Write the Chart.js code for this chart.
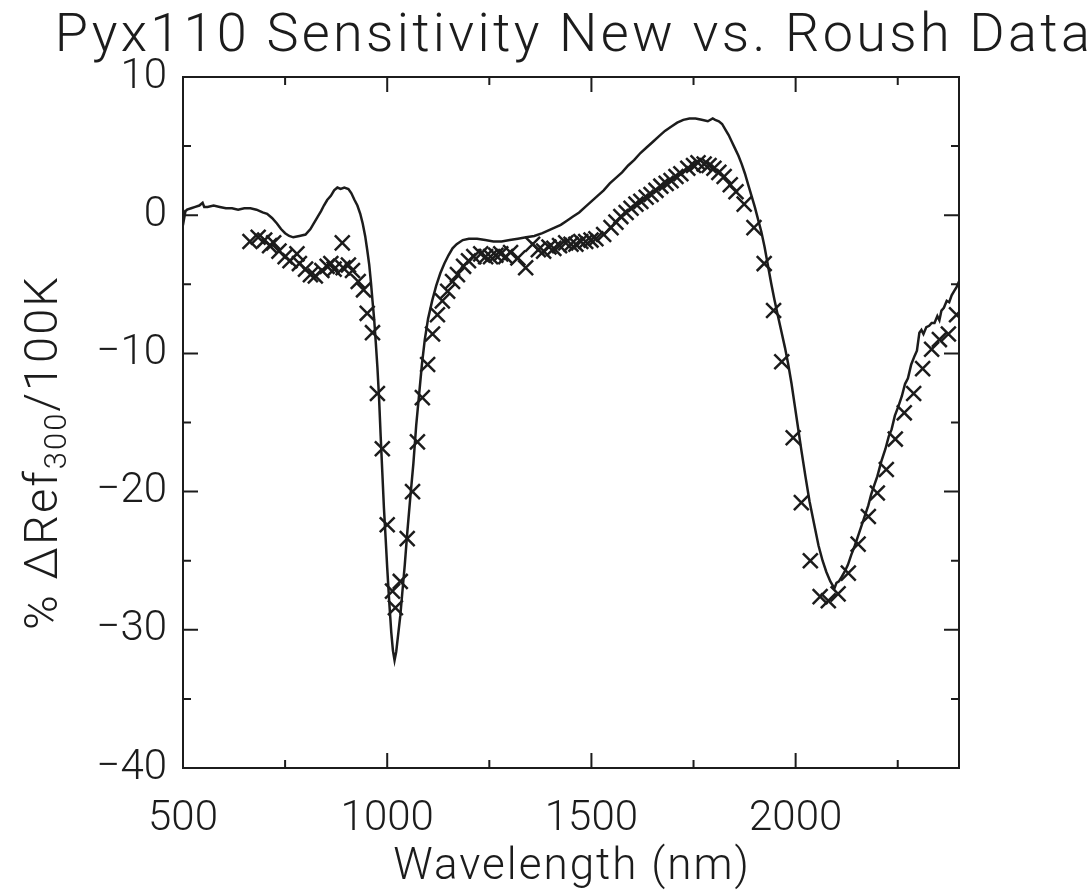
<!DOCTYPE html>
<html lang="en">
<head>
<meta charset="UTF-8">
<title>Pyx110 Sensitivity New vs. Roush Data</title>
<script src="https://cdn.jsdelivr.net/npm/chart.js@4.4.0/dist/chart.umd.min.js"></script>
<style>
  body { margin: 0; background: #fff; }
  #wrap { width: 1087px; height: 890px; }
</style>
</head>
<body>
<div id="wrap"><canvas id="chart"></canvas></div>
<script>
// new measurement (solid line)
const newWl = [500, 503, 506, 510, 520, 530, 540, 548, 552, 560, 575, 590, 605, 620, 635, 650, 665, 680, 695, 706,
  718, 730, 740, 750, 760, 770, 785, 800, 812, 822, 830, 838, 845, 853, 862, 870, 878, 886, 895, 905,
  912, 920, 927, 934, 940, 946, 951, 956, 960, 964, 968, 972, 976, 980, 984, 988, 992, 996, 1000, 1005,
  1010, 1014, 1018, 1022, 1027, 1032, 1037, 1043, 1049, 1056, 1064, 1071, 1078, 1085, 1092, 1100, 1110, 1120, 1130, 1140,
  1150, 1160, 1170, 1185, 1200, 1220, 1240, 1260, 1280, 1300, 1320, 1340, 1360, 1380, 1395, 1410, 1425, 1440, 1455, 1470,
  1485, 1500, 1515, 1530, 1545, 1560, 1575, 1590, 1605, 1620, 1635, 1650, 1665, 1680, 1695, 1710, 1725, 1740, 1755, 1770,
  1785, 1797, 1803, 1812, 1820, 1828, 1836, 1844, 1852, 1860, 1868, 1876, 1884, 1892, 1900, 1908, 1916, 1924, 1932, 1940,
  1948, 1956, 1965, 1974, 1982, 1990, 1997, 2005, 2014, 2024, 2034, 2045, 2056, 2066, 2075, 2085, 2095, 2100, 2106, 2112,
  2120, 2128, 2136, 2145, 2153, 2161, 2170, 2178, 2185, 2193, 2200, 2210, 2220, 2228, 2235, 2243, 2252, 2260, 2268, 2275,
  2283, 2291, 2297, 2303, 2308, 2313, 2320, 2327, 2333, 2340, 2347, 2352, 2357, 2363, 2370, 2376, 2382, 2388, 2394, 2400];
const newVal = [0.4, -0.2, 0.3, 0.4, 0.5, 0.6, 0.7, 0.9, 0.6, 0.6, 0.7, 0.6, 0.5, 0.5, 0.4, 0.5, 0.5, 0.4, 0.2, 0.1,
  -0.2, -0.6, -1.0, -1.3, -1.5, -1.6, -1.5, -1.4, -1.0, -0.5, -0.1, 0.3, 0.7, 1.1, 1.4, 1.8, 2.0, 1.9, 2.0, 1.9,
  1.6, 1.1, 0.7, 0.1, -0.6, -1.5, -2.5, -3.6, -4.8, -6.2, -7.5, -9.2, -11.0, -13.2, -16.0, -18.6, -21.2, -23.3, -25.5, -28.0,
  -30.2, -31.5, -32.2, -31.6, -30.3, -29.0, -27.3, -25.3, -23.0, -20.6, -18.0, -15.2, -13.0, -10.8, -9.0, -7.5, -6.2, -5.1, -4.2, -3.5,
  -2.9, -2.4, -2.1, -1.8, -1.7, -1.7, -1.8, -1.9, -1.9, -1.8, -1.7, -1.6, -1.5, -1.3, -1.1, -0.9, -0.7, -0.4, -0.1, 0.2,
  0.6, 1.0, 1.4, 1.8, 2.3, 2.7, 3.1, 3.6, 4.0, 4.5, 4.9, 5.3, 5.7, 6.1, 6.4, 6.7, 6.9, 7.0, 7.0, 6.9,
  6.8, 7.0, 6.9, 6.8, 6.6, 6.2, 5.8, 5.3, 4.8, 4.3, 3.7, 3.0, 2.2, 1.4, 0.6, -0.3, -1.2, -2.3, -3.6, -4.9,
  -6.1, -7.2, -8.4, -9.6, -10.8, -12.2, -13.6, -15.2, -17.0, -18.9, -20.7, -22.3, -23.9, -25.0, -25.8, -26.5, -27.0, -26.6, -26.5, -26.2,
  -25.8, -25.3, -24.6, -23.9, -23.2, -22.5, -21.7, -21.0, -20.2, -19.5, -18.9, -17.8, -16.9, -16.0, -15.5, -14.5, -13.8, -13.1, -12.2, -11.8,
  -10.8, -10.2, -9.8, -8.5, -8.3, -8.6, -8.1, -8.0, -7.8, -7.8, -7.3, -7.6, -6.9, -6.7, -6.2, -6.3, -5.8, -5.5, -5.2, -4.8];

// Roush data (x markers)
const roushWl = [664, 684, 700, 712, 722, 735, 750, 762, 779, 785, 800, 812, 824, 840, 853, 862, 870, 890, 892, 905,
  915, 929, 942, 951, 964, 976, 988, 1000, 1013, 1020, 1032, 1049, 1062, 1074, 1086, 1099, 1111, 1123, 1135, 1148,
  1160, 1172, 1187, 1199, 1212, 1229, 1241, 1253, 1266, 1278, 1290, 1302, 1320, 1339, 1356, 1370, 1383, 1396, 1408, 1422,
  1437, 1450, 1462, 1474, 1486, 1499, 1511, 1530, 1548, 1560, 1572, 1585, 1597, 1609, 1621, 1634, 1646, 1658, 1670, 1683,
  1695, 1707, 1719, 1736, 1750, 1761, 1776, 1788, 1800, 1812, 1825, 1840, 1854, 1874, 1898, 1923, 1946, 1966, 1994, 2014,
  2036, 2060, 2080, 2104, 2129, 2153, 2178, 2200, 2222, 2244, 2266, 2289, 2311, 2333, 2352, 2374, 2394];
const roushVal = [-1.9, -1.6, -1.8, -2.2, -2.0, -2.6, -3.0, -3.3, -2.8, -3.5, -3.9, -4.3, -4.4, -4.0, -3.7, -3.5, -3.9, -2.0, -3.8, -3.6,
  -4.0, -4.8, -5.4, -7.1, -8.5, -12.9, -16.9, -22.4, -27.2, -28.4, -26.5, -23.4, -20.0, -16.4, -13.2, -10.8, -8.6, -7.2, -6.2, -5.5,
  -4.8, -4.3, -3.7, -3.3, -3.0, -2.8, -3.0, -3.0, -2.9, -2.8, -3.0, -2.7, -3.1, -3.8, -2.1, -2.5, -2.6, -2.3, -2.4, -2.2,
  -2.0, -2.1, -2.1, -1.9, -1.9, -1.8, -1.7, -1.4, -0.9, -0.5, -0.1, 0.2, 0.5, 0.8, 1.0, 1.3, 1.5, 1.8, 2.1, 2.3,
  2.5, 2.8, 3.0, 3.4, 3.6, 3.8, 3.7, 3.6, 3.4, 3.1, 2.8, 2.2, 1.7, 0.8, -0.9, -3.5, -6.9, -10.6, -16.1, -20.8,
  -25.0, -27.6, -27.9, -27.4, -25.9, -23.8, -21.8, -20.1, -18.4, -16.2, -14.3, -12.9, -11.1, -9.7, -9.0, -8.6, -7.2];

// axis ticks
const xMajor = [500, 1000, 1500, 2000];
const xMinor = [750, 1250, 1750, 2250];
const yMajor = [10, 0, -10, -20, -30, -40];
const yMinor = [5, -5, -15, -25, -35];

const titleText = 'Pyx110 Sensitivity New vs. Roush Data';
const xTitle = 'Wavelength (nm)';
const ink = '#1c1c1c';
const fam = 'Roboto';
const wgt = '300';

// box around the plot with inward ticks on all four sides, plus the titles
const frame = {
  id: 'frame',
  afterDatasetsDraw(chart) {
    const { ctx, chartArea: a, scales: { x, y } } = chart;
    ctx.save();
    ctx.strokeStyle = ink;
    ctx.lineWidth = 2;
    ctx.strokeRect(a.left, a.top, a.right - a.left, a.bottom - a.top);
    ctx.beginPath();
    xMajor.concat(xMinor).forEach(v => {
      const len = xMajor.includes(v) ? 15 : 8;
      const px = x.getPixelForValue(v);
      ctx.moveTo(px, a.bottom); ctx.lineTo(px, a.bottom - len);
      ctx.moveTo(px, a.top); ctx.lineTo(px, a.top + len);
    });
    yMajor.concat(yMinor).forEach(v => {
      const len = yMajor.includes(v) ? 15 : 8;
      const py = y.getPixelForValue(v);
      ctx.moveTo(a.left, py); ctx.lineTo(a.left + len, py);
      ctx.moveTo(a.right, py); ctx.lineTo(a.right - len, py);
    });
    ctx.stroke();

    const mid = (a.left + a.right) / 2;
    ctx.fillStyle = ink;
    ctx.textAlign = 'center';
    ctx.textBaseline = 'alphabetic';
    // title, wide spacing like the plotter font
    ctx.font = wgt + ' 54px ' + fam;
    ctx.letterSpacing = '3.3px';
    ctx.fillText(titleText, mid + 3, 51);
    // x title
    ctx.font = wgt + ' 44px ' + fam;
    ctx.letterSpacing = '2px';
    ctx.fillText(xTitle, mid + 1, 879);

    // "% ΔRef300/100K" with a real subscript
    ctx.textAlign = 'left';
    const big = wgt + ' 47px ' + fam, small = wgt + ' 31px ' + fam;
    const parts = [['% \u0394Ref', big, 0], ['300', small, 9], ['/100K', big, 0]];
    let total = 0;
    parts.forEach(p => { ctx.font = p[1]; p.push(ctx.measureText(p[0]).width); total += p[3]; });
    ctx.translate(57, (a.top + a.bottom) / 2 + 30);
    ctx.rotate(-Math.PI / 2);
    let cx = -total / 2;
    parts.forEach(p => { ctx.font = p[1]; ctx.fillText(p[0], cx, p[2]); cx += p[3]; });
    ctx.restore();
  }
};

const minus = v => String(v).replace('-', '\u2212');

new Chart(document.getElementById('chart'), {
  type: 'scatter',
  data: {
    datasets: [
      {
        label: 'New',
        data: newWl.map((w, i) => ({ x: w, y: newVal[i] })),
        showLine: true,
        borderColor: ink,
        borderWidth: 2.5,
        pointRadius: 0,
        tension: 0
      },
      {
        label: 'Roush',
        data: roushWl.map((w, i) => ({ x: w, y: roushVal[i] })),
        pointStyle: 'crossRot',
        pointRadius: 10.5,
        borderColor: ink,
        borderWidth: 2.5
      }
    ]
  },
  options: {
    responsive: true,
    maintainAspectRatio: false,
    animation: false,
    layout: { padding: { top: 77, right: 128, bottom: 0, left: 0 } },
    plugins: {
      legend: { display: false },
      tooltip: { enabled: false },
      title: { display: false }
    },
    scales: {
      x: {
        type: 'linear',
        min: 500,
        max: 2400,
        afterBuildTicks: s => { s.ticks = xMajor.map(v => ({ value: v })); },
        afterFit: s => { s.height = 122; },
        grid: { display: false, drawTicks: false },
        border: { display: false },
        ticks: { color: ink, padding: 26, font: { family: fam, size: 42, weight: wgt }, callback: v => minus(v) }
      },
      y: {
        type: 'linear',
        min: -40,
        max: 10,
        afterBuildTicks: s => { s.ticks = yMajor.map(v => ({ value: v })); },
        afterFit: s => { s.width = 183; },
        grid: { display: false, drawTicks: false },
        border: { display: false },
        ticks: { color: ink, padding: 16, font: { family: fam, size: 42, weight: wgt }, callback: v => minus(v) }
      }
    }
  },
  plugins: [frame]
});
</script>
</body>
</html>
